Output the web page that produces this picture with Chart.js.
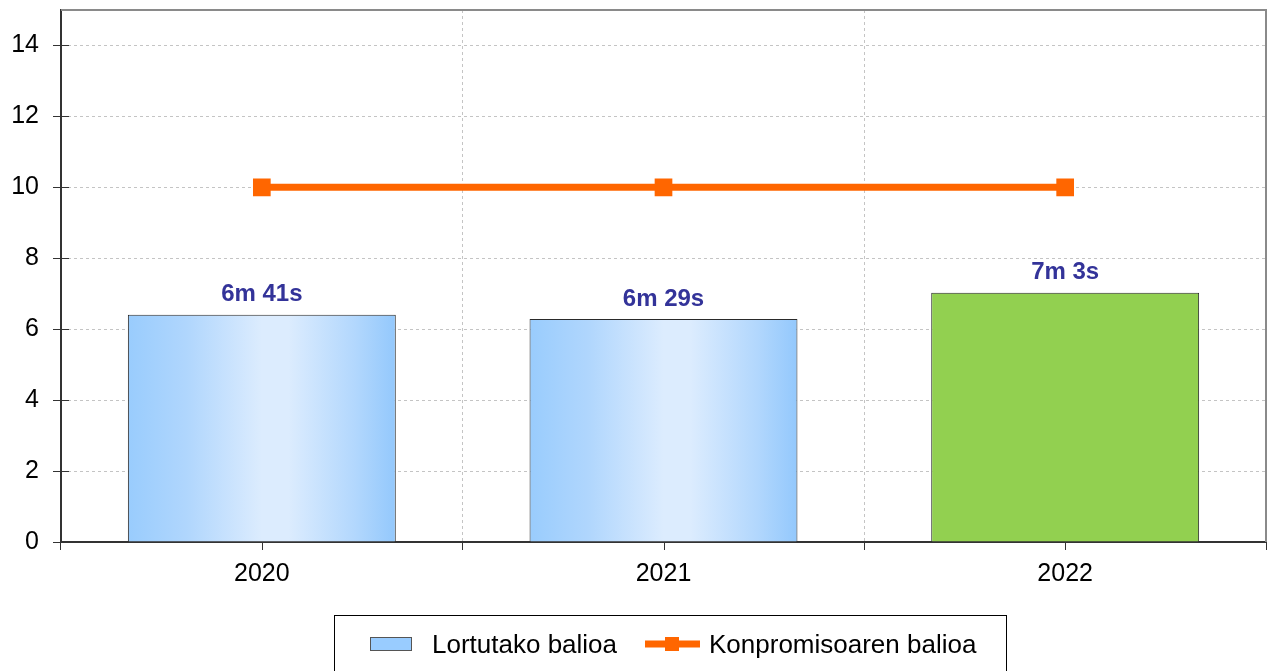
<!DOCTYPE html>
<html><head><meta charset="utf-8">
<script src="https://cdn.jsdelivr.net/npm/chart.js@4/dist/chart.umd.min.js"></script>
<style>html,body{margin:0;padding:0;background:#fff}#wrap{width:1271px;height:671px}</style>
</head><body><div id="wrap"><canvas id="c" width="1271" height="671"></canvas></div>
<script>
const categories = ['2020', '2021', '2022'];
const achievedValues = [6.41, 6.29, 7.03];
const achievedLabels = ['6m 41s', '6m 29s', '7m 3s'];
const commitmentValues = [10, 10, 10];
const yTickValues = [0, 2, 4, 6, 8, 10, 12, 14];
const seriesNames = ['Lortutako balioa', 'Konpromisoaren balioa'];

const FONT = "'Liberation Sans', Arial, sans-serif";
const BAR_PCT = 0.667;

function blueGradient(ctx2d, x0, x1) {
  const g = ctx2d.createLinearGradient(x0, 0, x1, 0);
  g.addColorStop(0, '#99ccfd');
  g.addColorStop(0.22, '#b0d6fd');
  g.addColorStop(0.5, '#dcecfe');
  g.addColorStop(0.6, '#dcecfe');
  g.addColorStop(0.85, '#b2d7fd');
  g.addColorStop(1, '#93c8fc');
  return g;
}

function zeroPad(s) { s.paddingTop = 0; s.paddingBottom = 0; s.paddingLeft = 0; s.paddingRight = 0; }

const extrasPlugin = {
  id: 'extras',
  beforeDatasetsDraw(chart) {
    const {ctx, chartArea: a, scales: {x, y}} = chart;
    ctx.save();
    ctx.strokeStyle = '#8a8a8a';
    ctx.lineWidth = 2;
    ctx.beginPath();
    ctx.moveTo(a.left, a.top); ctx.lineTo(a.right, a.top); ctx.lineTo(a.right, a.bottom);
    ctx.stroke();
    ctx.strokeStyle = '#333';
    ctx.lineWidth = 1;
    y.ticks.forEach(t => {
      const py = Math.round(y.getPixelForValue(t.value)) + 0.5;
      ctx.beginPath(); ctx.moveTo(a.left, py); ctx.lineTo(a.left + 8, py); ctx.stroke();
    });
    categories.forEach((c, i) => {
      const px = Math.round(x.getPixelForValue(i)) + 0.5;
      ctx.beginPath(); ctx.moveTo(px, a.bottom); ctx.lineTo(px, a.bottom + 8); ctx.stroke();
    });
    ctx.restore();
  },
  afterDatasetsDraw(chart) {
    const {ctx} = chart;
    const meta = chart.getDatasetMeta(0);
    ctx.save();
    ctx.font = 'bold 24px ' + FONT;
    ctx.fillStyle = '#333399';
    ctx.textAlign = 'center';
    ctx.textBaseline = 'bottom';
    meta.data.forEach((el, i) => {
      ctx.fillText(achievedLabels[i], el.x, el.y - 8);
    });
    ctx.restore();
  },
  afterDraw(chart) {
    const {ctx} = chart;
    ctx.save();
    ctx.strokeStyle = '#000';
    ctx.lineWidth = 1;
    ctx.strokeRect(334.5, 615.5, 672, 70);
    ctx.font = '26px ' + FONT;
    ctx.textBaseline = 'alphabetic';
    ctx.textAlign = 'left';
    ctx.fillStyle = '#99ccff';
    ctx.fillRect(370, 637, 42, 14);
    ctx.strokeStyle = '#555';
    ctx.strokeRect(370.5, 637.5, 41, 13);
    ctx.fillStyle = '#000';
    ctx.fillText(chart.data.datasets[0].label, 432, 653);
    ctx.strokeStyle = '#ff6600';
    ctx.lineWidth = 7;
    ctx.beginPath(); ctx.moveTo(645, 644); ctx.lineTo(700, 644); ctx.stroke();
    ctx.fillStyle = '#ff6600';
    ctx.fillRect(665, 637, 14, 14);
    ctx.fillStyle = '#000';
    ctx.fillText(chart.data.datasets[1].label, 709, 653);
    ctx.restore();
  }
};

new Chart(document.getElementById('c'), {
  data: {
    labels: categories,
    datasets: [
      {
        type: 'bar',
        label: seriesNames[0],
        data: achievedValues,
        order: 1,
        barPercentage: BAR_PCT,
        categoryPercentage: 1,
        borderColor: '#2a2a2a',
        borderWidth: 1,
        backgroundColor: (c) => {
          if (c.dataIndex === 2) return '#92d050';
          const chart = c.chart, xs = chart.scales.x;
          if (!xs || !chart.chartArea) return '#99ccff';
          const cx = xs.getPixelForValue(c.dataIndex);
          const half = xs.width / categories.length * BAR_PCT / 2;
          return blueGradient(chart.ctx, cx - half, cx + half);
        }
      },
      {
        type: 'line',
        label: seriesNames[1],
        data: commitmentValues,
        order: 0,
        borderColor: '#ff6600',
        backgroundColor: '#ff6600',
        borderWidth: 7,
        pointStyle: 'rect',
        pointRadius: 12.5,
        pointHoverRadius: 12.5,
        pointBorderWidth: 0,
        tension: 0
      }
    ]
  },
  options: {
    responsive: false,
    animation: false,
    devicePixelRatio: 1,
    layout: {autoPadding: false, padding: {top: 10, right: 5, left: 0, bottom: 79}},
    plugins: {legend: {display: false}, tooltip: {enabled: false}},
    scales: {
      x: {
        offset: true,
        afterFit: (s) => { s.height = 50; zeroPad(s); },
        grid: {
          offset: true,
          color: '#c4c4c4',
          lineWidth: 1,
          tickLength: 8,
          tickColor: '#333',
          tickBorderDash: []
        },
        border: {color: '#333', width: 2, dash: [3, 3]},
        ticks: {font: {family: FONT, size: 25}, color: '#000', padding: 9}
      },
      y: {
        min: 0,
        max: 15,
        afterFit: (s) => { s.width = 61; zeroPad(s); },
        afterBuildTicks: (s) => { s.ticks = yTickValues.map(v => ({value: v})); },
        grid: {
          color: '#c4c4c4',
          lineWidth: 1,
          tickLength: 8,
          tickColor: '#333',
          tickBorderDash: []
        },
        border: {color: '#333', width: 2, dash: [3, 3]},
        ticks: {font: {family: FONT, size: 25}, color: '#000', padding: 14}
      }
    }
  },
  plugins: [extrasPlugin]
});
</script>
</body></html>
